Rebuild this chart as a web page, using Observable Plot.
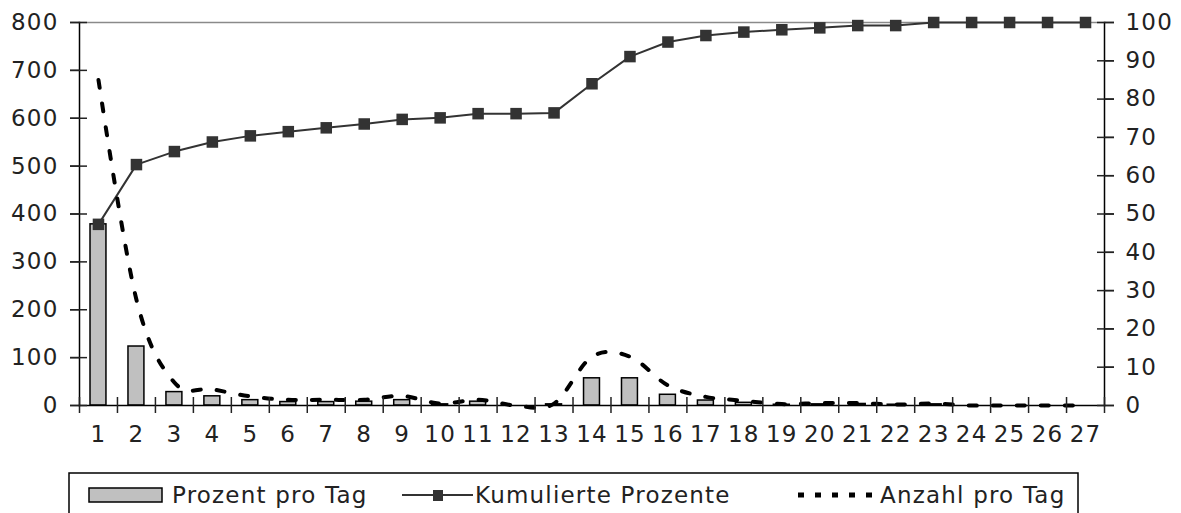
<!DOCTYPE html>
<html><head><meta charset="utf-8">
<script src="https://cdn.jsdelivr.net/npm/d3@7"></script>
<script src="https://cdn.jsdelivr.net/npm/@observablehq/plot@0.6"></script>
<style>
body{margin:0;background:#fff;font-family:"DejaVu Sans",sans-serif;}
#wrap{position:relative;width:1181px;height:513px;overflow:hidden;}
#legend{position:absolute;left:68px;top:472px;}
</style></head>
<body><div id="wrap"><div id="chart"></div><div id="legend"></div></div>
<script>
const days = d3.range(1, 28);
const prozentProTag = [47.3, 15.4, 3.5, 2.4, 1.4, 0.9, 0.9, 1.0, 1.4, 0.3, 1.0, 0.0, 0.3, 7.1, 7.1, 2.8, 1.3, 0.7, 0.2, 0.3, 0.4, 0.2, 0.3, 0.0, 0.0, 0.0, 0.0];
const kumuliertProzent = [47.3, 62.9, 66.3, 68.8, 70.4, 71.5, 72.5, 73.5, 74.7, 75.1, 76.2, 76.2, 76.4, 84.0, 91.1, 94.9, 96.6, 97.5, 98.1, 98.6, 99.2, 99.2, 100, 100, 100, 100, 100];
const anzahlProTag = [680, 221, 48, 34, 19, 12, 12, 12, 20, 4, 12, 0, 4, 102, 102, 42, 18, 10, 3, 5, 5, 2, 4, 0, 0, 0, 0];
const leftTicks = [0, 100, 200, 300, 400, 500, 600, 700, 800];
const rightTicks = [0, 10, 20, 30, 40, 50, 60, 70, 80, 90, 100];
const seriesNames = ["Prozent pro Tag", "Kumulierte Prozente", "Anzahl pro Tag"];

const leftMax = 800, rightMax = 100;
const k = rightMax / leftMax;
const data = days.map((d, i) => ({day: d, pct: prozentProTag[i], cum: kumuliertProzent[i], n: anzahlProTag[i] * k}));

const W = 1181, H = 470;
const step = (W - 79 - 77) / days.length;
const FONT = "DejaVu Sans, sans-serif";
const chart = Plot.plot({
  width: W, height: H,
  marginLeft: 79, marginRight: 77, marginTop: 22, marginBottom: H - 405,
  style: {fontFamily: FONT, fontSize: "23px", color: "#222", letterSpacing: "1.2px", background: "#fff", overflow: "visible"},
  x: {type: "band", domain: days, paddingInner: 0.58, paddingOuter: 0.29, round: false, axis: null},
  y: {domain: [0, rightMax], axis: null},
  marks: [
    Plot.frame({anchor: "top", stroke: "#8a8a8a", strokeWidth: 1.5}),
    Plot.barY(data, {x: "day", y: "pct", fill: "#c0c0c0", stroke: "#000", strokeWidth: 1.5}),
    Plot.line(data, {x: "day", y: "cum", stroke: "#333", strokeWidth: 2}),
    Plot.dot(data, {x: "day", y: "cum", symbol: "square", r: 6.5, fill: "#333", stroke: "none"}),
    Plot.line(data, {x: "day", y: "n", curve: "cardinal", tension: 0, stroke: "#000", strokeWidth: 4, strokeDasharray: "8,16"}),
    Plot.frame({anchor: "left", stroke: "#000", strokeWidth: 1.5}),
    Plot.frame({anchor: "right", stroke: "#000", strokeWidth: 1.5}),
    Plot.frame({anchor: "bottom", stroke: "#000", strokeWidth: 1.5}),
    Plot.axisY({anchor: "left", ticks: leftTicks.map(v => v * k), tickFormat: v => Math.round(v / k), tickSize: 9, tickPadding: 12, label: null, strokeWidth: 1.5}),
    Plot.axisY({anchor: "left", ticks: leftTicks.map(v => v * k), tickSize: 17, dx: 8, text: null, label: null, strokeWidth: 1.5}),
    Plot.axisY({anchor: "right", ticks: rightTicks, tickSize: 9, tickPadding: 12, label: null, strokeWidth: 1.5}),
    Plot.axisY({anchor: "right", ticks: rightTicks, tickSize: 17, dx: -8, text: null, label: null, strokeWidth: 1.5}),
    Plot.axisX({anchor: "bottom", ticks: days, tickSize: 0, tickPadding: 20, label: null}),
    Plot.axisX({anchor: "bottom", ticks: days, tickSize: 16, dy: -8, dx: -step / 2, text: null, label: null, strokeWidth: 1.5}),
    Plot.axisX({anchor: "bottom", ticks: [27], tickSize: 16, dy: -8, dx: step / 2, text: null, label: null, strokeWidth: 1.5})
  ]
});
document.getElementById("chart").appendChild(chart);

// Legend
const lg = d3.select("#legend").append("svg").attr("width", 1012).attr("height", 45)
  .style("font-family", FONT).style("font-size", "23px").style("letter-spacing", "1.2px");
lg.append("path").attr("d", "M1,45V1H1010V45").attr("fill", "none").attr("stroke", "#000").attr("stroke-width", 1.5);
lg.append("rect").attr("x", 21).attr("y", 16).attr("width", 73).attr("height", 14).attr("fill", "#c0c0c0").attr("stroke", "#000").attr("stroke-width", 1.5);
lg.append("text").attr("x", 104).attr("y", 31).attr("fill", "#222").text(seriesNames[0]);
lg.append("line").attr("x1", 334).attr("x2", 405).attr("y1", 23).attr("y2", 23).attr("stroke", "#333").attr("stroke-width", 2);
lg.append("rect").attr("x", 365).attr("y", 18).attr("width", 10).attr("height", 11).attr("fill", "#333");
lg.append("text").attr("x", 407).attr("y", 31).attr("fill", "#222").text(seriesNames[1]);
lg.append("line").attr("x1", 730).attr("x2", 811).attr("y1", 23).attr("y2", 23).attr("stroke", "#000").attr("stroke-width", 5).attr("stroke-dasharray", "6,11");
lg.append("text").attr("x", 812).attr("y", 31).attr("fill", "#222").text(seriesNames[2]);
</script></body></html>
